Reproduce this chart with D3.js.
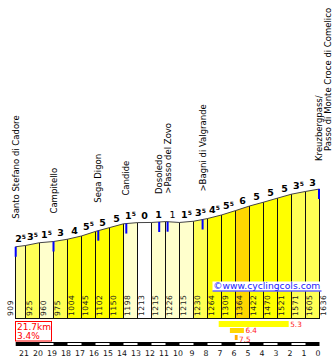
<!DOCTYPE html>
<html>
<head>
<meta charset="utf-8">
<script src="https://cdn.jsdelivr.net/npm/d3@7/dist/d3.min.js"></script>
<style>
  html, body { margin: 0; padding: 0; background: #fff; }
  svg { display: block; }
</style>
</head>
<body>
<script>
// Climb profile: Santo Stefano di Cadore -> Kreuzbergpass / Passo di Monte Croce di Comelico
const kms = [21.7, 21, 20, 19, 18, 17, 16, 15, 14, 13, 12, 11, 10, 9, 8, 7, 6, 5, 4, 3, 2, 1, 0];
const elevations = [909, 925, 960, 975, 1004, 1045, 1102, 1150, 1198, 1213, 1215, 1226, 1215, 1230, 1264, 1309, 1364, 1422, 1470, 1521, 1571, 1605, 1636];
// gradient of each stretch (negative = descent)
const gradients = [2.5, 3.5, 1.5, 3, 4, 5.5, 5, 5, 1.5, 0, 1, -1, 1.5, 3.5, 4.5, 5.5, 6, 5, 5, 5, 3.5, 3];

const placeNames = [
  ["Santo Stefano di Cadore"], ["Campitello"], ["Sega Digon"], ["Candide"],
  ["Dosoledo"], [">Passo del Zovo"], [">Bagni di Valgrande"],
  ["Kreuzbergpass/", "Passo di Monte Croce di Comelico"]
];
const placeKms = [21.7, 19, 15.8, 13.8, 11.45, 10.85, 8.35, 0];

const totalLength = "21.7km";
const averageGrade = "3.4%";

// steepest stretches: grade, start km (to go), length in km
const steepGrades = [5.3, 6.4, 7.5];
const steepStartKm = [7.2, 6.4, 6.05];
const steepLengthKm = [5, 1, 0.2];

const axisKms = [21, 20, 19, 18, 17, 16, 15, 14, 13, 12, 11, 10, 9, 8, 7, 6, 5, 4, 3, 2, 1, 0];

const W = 334, H = 359;
const svg = d3.select("body").append("svg").attr("width", W).attr("height", H);

const x = d3.scaleLinear().domain([21.7, 0]).range([15.7, 319.5]);
const y = d3.scaleLinear().domain([0, 1636]).range([319, 189]);
const elevAt = d3.scaleLinear().domain(kms).range(elevations);
const crisp = v => Math.round(v - 0.5) + 0.5;

const gradeColor = d3.scaleThreshold()
  .domain([0.5, 2, 3, 4, 6, 7])
  .range(["#ffffff", "#ffffcc", "#ffff99", "#ffff55", "#ffff00", "#ffd700", "#ffaa00"]);

const FONT = "'DejaVu Sans', Verdana, sans-serif";
const baseY = 319;

// segments
const segs = gradients.map((g, i) => ({
  k0: kms[i], k1: kms[i + 1], e0: elevations[i], e1: elevations[i + 1], g
}));

const area = d3.area()
  .x(d => x(d.k))
  .y0(baseY)
  .y1(d => y(d.e));

svg.append("g").selectAll("path").data(segs).join("path")
  .attr("d", s => area([{ k: s.k0, e: s.e0 }, { k: s.k1, e: s.e1 }]))
  .attr("fill", s => gradeColor(Math.abs(s.g)));

// km separators
svg.append("g").selectAll("line").data(kms).join("line")
  .attr("x1", k => crisp(x(k))).attr("x2", k => crisp(x(k)))
  .attr("y1", (k, i) => y(elevations[i])).attr("y2", baseY)
  .attr("stroke", "#111").attr("stroke-width", 1);

// bottom edge
svg.append("line")
  .attr("x1", crisp(x(21.7))).attr("x2", crisp(x(0)))
  .attr("y1", baseY - 0.5).attr("y2", baseY - 0.5)
  .attr("stroke", "#111");

// profile outline
svg.append("path")
  .attr("d", d3.line().x((k) => x(k)).y((k, i) => y(elevations[i]))(kms))
  .attr("fill", "none").attr("stroke", "#444").attr("stroke-width", 1);

// gradient labels
const gl = svg.append("g").attr("font-family", FONT).attr("text-anchor", "middle");
segs.forEach(s => {
  const a = Math.abs(s.g);
  const whole = Math.floor(a);
  const half = a - whole >= 0.5;
  const t = gl.append("text")
    .attr("x", (x(s.k0) + x(s.k1)) / 2)
    .attr("y", y((s.e0 + s.e1) / 2) - 4)
    .attr("font-size", 9.5)
    .attr("font-weight", s.g < 0 ? "normal" : "bold")
    .attr("fill", "#000");
  t.append("tspan").text(whole);
  if (half) t.append("tspan").attr("font-size", 6).attr("dy", -3.2).text("5");
});

// elevation labels
svg.append("g").selectAll("text").data(kms).join("text")
  .attr("transform", (k, i) => `translate(${x(k) + (i === 0 ? -3 : 6)},316) rotate(-90)`)
  .attr("font-family", FONT).attr("font-size", 7.6).attr("letter-spacing", 0.5)
  .attr("fill", "#222")
  .text((k, i) => elevations[i]);

// landmark markers
svg.append("g").selectAll("rect").data(placeKms).join("rect")
  .attr("x", k => Math.min(x(k) - 1, 318))
  .attr("y", k => y(elevAt(k)))
  .attr("width", 2).attr("height", 10)
  .attr("fill", "#0000ff");

// landmark names
const pl = svg.append("g").attr("font-family", FONT).attr("font-size", 8.5).attr("fill", "#000");
placeNames.forEach((lines, i) => {
  const k = placeKms[i];
  const px = x(k), py = y(elevAt(k));
  lines.forEach((name, j) => {
    const off = lines.length > 1 ? (j === 0 ? -1 : 8) : 0;
    pl.append("text")
      .attr("transform", `translate(${px + off + 3},${py - 28 - j * 10}) rotate(-90)`)
      .text(name);
  });
});

// watermark
const wm = svg.append("g");
wm.append("rect").attr("x", 212.5).attr("y", 281.5).attr("width", 109).attr("height", 10).attr("fill", "#fff");
wm.append("text").attr("x", 213.3).attr("y", 289)
  .attr("font-family", FONT).attr("font-size", 9.2).attr("fill", "#1a1aff")
  .attr("textLength", 107).text("\u00a9www.cyclingcols.com");
wm.append("line").attr("x1", 212.5).attr("x2", 321.5).attr("y1", 291).attr("y2", 291)
  .attr("stroke", "#1a1aff");

// length / average box
const info = svg.append("g").attr("font-family", FONT).attr("font-size", 9).attr("fill", "#ff0000");
info.append("rect").attr("x", 15.5).attr("y", 321.5).attr("width", 36).attr("height", 19.5)
  .attr("fill", "none").attr("stroke", "#ff0000");
info.append("text").attr("x", 17).attr("y", 329.5).text(totalLength);
info.append("text").attr("x", 17).attr("y", 338.5).text(averageGrade);

// steepest stretches
const st = svg.append("g").attr("font-family", FONT).attr("font-size", 7.3);
const steepRowY = [321, 328, 335];
const steepTextY = [327, 332.8, 341.6];
steepGrades.forEach((g, i) => {
  const x0 = x(steepStartKm[i]), x1 = x(steepStartKm[i] - steepLengthKm[i]);
  st.append("rect").attr("x", x0).attr("y", steepRowY[i]).attr("width", x1 - x0).attr("height", i === 0 ? 6 : 5)
    .attr("fill", gradeColor(g));
  st.append("text").attr("x", x1 + 1.5).attr("y", steepTextY[i]).attr("fill", "#ff2222").text(g.toFixed(1));
});

// km scale bar
const bar = svg.append("g");
bar.append("rect").attr("x", x(21.7)).attr("y", 342).attr("width", x(0) - x(21.7)).attr("height", 4).attr("fill", "#000");
bar.selectAll("rect.w").data(axisKms.filter(k => k % 2 === 0 && k > 0)).join("rect")
  .attr("class", "w")
  .attr("x", k => x(k)).attr("y", 343)
  .attr("width", k => x(k - 1) - x(k)).attr("height", 2)
  .attr("fill", "#fff");

svg.append("g").selectAll("text").data(axisKms).join("text")
  .attr("x", k => x(k) - 1.5).attr("y", 355.5)
  .attr("text-anchor", "middle")
  .attr("font-family", FONT).attr("font-size", 7.8).attr("fill", "#111")
  .text(k => k);
</script>
</body>
</html>
